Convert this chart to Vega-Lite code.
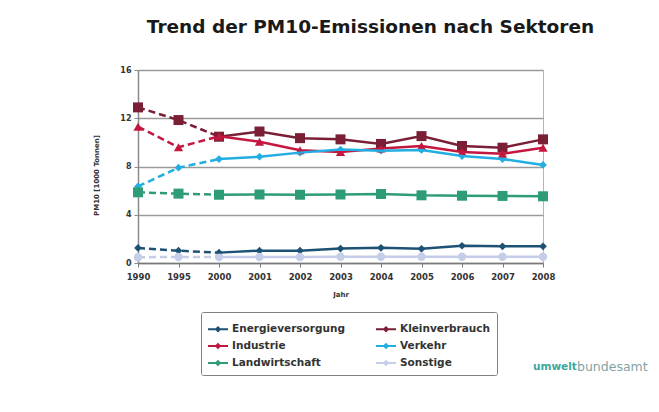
{
  "$schema": "https://vega.github.io/schema/vega-lite/v6.json",
  "width": 405,
  "height": 193,
  "autosize": {"type": "none"},
  "padding": {"left": 138, "top": 70, "right": 116, "bottom": 149},
  "background": "white",
  "title": {
    "text": "Trend der PM10-Emissionen nach Sektoren",
    "font": "DejaVu Sans",
    "fontSize": 18.5,
    "fontWeight": "bold",
    "color": "#1a1a1a",
    "anchor": "middle",
    "dx": 30,
    "offset": 30
  },
  "resolve": {"legend": {"color": "independent"}},
  "data": {
    "values": [
      {"year": 1990, "series": "Energieversorgung", "value": 1.25},
      {"year": 1995, "series": "Energieversorgung", "value": 1.02},
      {"year": 2000, "series": "Energieversorgung", "value": 0.86},
      {"year": 2001, "series": "Energieversorgung", "value": 1.02},
      {"year": 2002, "series": "Energieversorgung", "value": 1.02},
      {"year": 2003, "series": "Energieversorgung", "value": 1.2},
      {"year": 2004, "series": "Energieversorgung", "value": 1.26},
      {"year": 2005, "series": "Energieversorgung", "value": 1.18},
      {"year": 2006, "series": "Energieversorgung", "value": 1.43},
      {"year": 2007, "series": "Energieversorgung", "value": 1.38},
      {"year": 2008, "series": "Energieversorgung", "value": 1.38},
      {"year": 1990, "series": "Kleinverbrauch", "value": 12.9},
      {"year": 1995, "series": "Kleinverbrauch", "value": 11.85},
      {"year": 2000, "series": "Kleinverbrauch", "value": 10.47},
      {"year": 2001, "series": "Kleinverbrauch", "value": 10.9},
      {"year": 2002, "series": "Kleinverbrauch", "value": 10.35},
      {"year": 2003, "series": "Kleinverbrauch", "value": 10.25},
      {"year": 2004, "series": "Kleinverbrauch", "value": 9.87},
      {"year": 2005, "series": "Kleinverbrauch", "value": 10.52},
      {"year": 2006, "series": "Kleinverbrauch", "value": 9.7},
      {"year": 2007, "series": "Kleinverbrauch", "value": 9.56},
      {"year": 2008, "series": "Kleinverbrauch", "value": 10.25},
      {"year": 1990, "series": "Industrie", "value": 11.3},
      {"year": 1995, "series": "Industrie", "value": 9.6},
      {"year": 2000, "series": "Industrie", "value": 10.5},
      {"year": 2001, "series": "Industrie", "value": 10.05},
      {"year": 2002, "series": "Industrie", "value": 9.35},
      {"year": 2003, "series": "Industrie", "value": 9.2},
      {"year": 2004, "series": "Industrie", "value": 9.5},
      {"year": 2005, "series": "Industrie", "value": 9.7},
      {"year": 2006, "series": "Industrie", "value": 9.2},
      {"year": 2007, "series": "Industrie", "value": 9.05},
      {"year": 2008, "series": "Industrie", "value": 9.55},
      {"year": 1990, "series": "Verkehr", "value": 6.35},
      {"year": 1995, "series": "Verkehr", "value": 7.9},
      {"year": 2000, "series": "Verkehr", "value": 8.62},
      {"year": 2001, "series": "Verkehr", "value": 8.81},
      {"year": 2002, "series": "Verkehr", "value": 9.15},
      {"year": 2003, "series": "Verkehr", "value": 9.4},
      {"year": 2004, "series": "Verkehr", "value": 9.31},
      {"year": 2005, "series": "Verkehr", "value": 9.37},
      {"year": 2006, "series": "Verkehr", "value": 8.87},
      {"year": 2007, "series": "Verkehr", "value": 8.62},
      {"year": 2008, "series": "Verkehr", "value": 8.13},
      {"year": 1990, "series": "Landwirtschaft", "value": 5.86},
      {"year": 1995, "series": "Landwirtschaft", "value": 5.75},
      {"year": 2000, "series": "Landwirtschaft", "value": 5.66},
      {"year": 2001, "series": "Landwirtschaft", "value": 5.68},
      {"year": 2002, "series": "Landwirtschaft", "value": 5.66},
      {"year": 2003, "series": "Landwirtschaft", "value": 5.68},
      {"year": 2004, "series": "Landwirtschaft", "value": 5.72},
      {"year": 2005, "series": "Landwirtschaft", "value": 5.61},
      {"year": 2006, "series": "Landwirtschaft", "value": 5.58},
      {"year": 2007, "series": "Landwirtschaft", "value": 5.56},
      {"year": 2008, "series": "Landwirtschaft", "value": 5.53},
      {"year": 1990, "series": "Sonstige", "value": 0.48},
      {"year": 1995, "series": "Sonstige", "value": 0.5},
      {"year": 2000, "series": "Sonstige", "value": 0.5},
      {"year": 2001, "series": "Sonstige", "value": 0.5},
      {"year": 2002, "series": "Sonstige", "value": 0.5},
      {"year": 2003, "series": "Sonstige", "value": 0.52},
      {"year": 2004, "series": "Sonstige", "value": 0.52},
      {"year": 2005, "series": "Sonstige", "value": 0.52},
      {"year": 2006, "series": "Sonstige", "value": 0.52},
      {"year": 2007, "series": "Sonstige", "value": 0.52},
      {"year": 2008, "series": "Sonstige", "value": 0.52}
    ]
  },
  "layer": [
    {
      "transform": [{"filter": "datum.series == 'Energieversorgung' || datum.series == 'Verkehr'"}],
      "mark": {"type": "point", "filled": true, "opacity": 1, "shape": "diamond", "size": 60},
      "encoding": {
        "x": {"field": "year", "type": "ordinal", "scale": {"type": "point", "padding": 0}, "title": "Jahr"},
        "y": {
          "field": "value",
          "type": "quantitative",
          "scale": {"domain": [0, 16], "nice": false},
          "title": "PM10 [1000 Tonnen]",
          "axis": {"values": [0, 4, 8, 12, 16]}
        },
        "color": {
          "field": "series",
          "type": "nominal",
          "scale": {
            "domain": ["Energieversorgung", "Kleinverbrauch", "Industrie", "Verkehr", "Landwirtschaft", "Sonstige"],
            "range": ["#1d5275", "#7a1f35", "#c4173f", "#22aee3", "#2e9c77", "#c5cde8"]
          },
          "legend": {
            "orient": "none",
            "direction": "horizontal",
            "legendX": 63,
            "legendY": 242,
            "columns": 2,
            "columnPadding": 30,
            "rowPadding": -9,
            "title": null,
            "values": ["Energieversorgung", "Kleinverbrauch", "Industrie", "Verkehr", "Landwirtschaft", "Sonstige"],
            "labelFont": "DejaVu Sans",
            "labelFontWeight": "bold",
            "labelFontSize": 10.5,
            "labelColor": "#333333",
            "labelOffset": 3,
            "symbolSize": 400,
            "symbolType": "M-1,-0.09H1V0.09H-1Z M0,-0.33L0.33,0L0,0.33L-0.33,0Z",
            "strokeColor": "#808080",
            "padding": 6,
            "cornerRadius": 2
          }
        }
      }
    },
    {
      "transform": [{"filter": "datum.series == 'Kleinverbrauch' || datum.series == 'Landwirtschaft'"}],
      "mark": {"type": "point", "filled": true, "opacity": 1, "shape": "square", "size": 100},
      "encoding": {
        "x": {"field": "year", "type": "ordinal"},
        "y": {"field": "value", "type": "quantitative"},
        "color": {"field": "series", "type": "nominal", "legend": null}
      }
    },
    {
      "transform": [{"filter": "datum.series == 'Industrie'"}],
      "mark": {"type": "point", "filled": true, "opacity": 1, "shape": "triangle-up", "size": 85},
      "encoding": {
        "x": {"field": "year", "type": "ordinal"},
        "y": {"field": "value", "type": "quantitative"},
        "color": {"field": "series", "type": "nominal", "legend": null}
      }
    },
    {
      "transform": [{"filter": "datum.series == 'Sonstige'"}],
      "mark": {"type": "point", "filled": true, "opacity": 1, "shape": "circle", "size": 70},
      "encoding": {
        "x": {"field": "year", "type": "ordinal"},
        "y": {"field": "value", "type": "quantitative"},
        "color": {"field": "series", "type": "nominal", "legend": null}
      }
    },
    {
      "transform": [{"filter": "datum.year <= 2000"}],
      "mark": {"type": "line", "strokeWidth": 2.5, "strokeDash": [7, 4]},
      "encoding": {
        "x": {"field": "year", "type": "ordinal"},
        "y": {"field": "value", "type": "quantitative"},
        "color": {"field": "series", "type": "nominal", "legend": null}
      }
    },
    {
      "transform": [{"filter": "datum.year >= 2000"}],
      "mark": {"type": "line", "strokeWidth": 2.5},
      "encoding": {
        "x": {"field": "year", "type": "ordinal"},
        "y": {"field": "value", "type": "quantitative"},
        "color": {"field": "series", "type": "nominal", "legend": null}
      }
    },
    {
      "data": {"values": [{"t": "umwelt"}]},
      "mark": {"type": "text", "align": "left", "baseline": "middle", "font": "DejaVu Sans", "fontWeight": "bold", "fontSize": 10.5, "color": "#3aa89e", "dx": -10},
      "encoding": {
        "x": {"datum": 2008, "type": "ordinal"},
        "y": {"datum": -8.6, "type": "quantitative"},
        "text": {"field": "t"}
      }
    },
    {
      "data": {"values": [{"t": "bundesamt"}]},
      "mark": {"type": "text", "align": "left", "baseline": "middle", "font": "DejaVu Sans", "fontSize": 12.5, "color": "#7fa3a6", "dx": 34},
      "encoding": {
        "x": {"datum": 2008, "type": "ordinal"},
        "y": {"datum": -8.6, "type": "quantitative"},
        "text": {"field": "t"}
      }
    }
  ],
  "config": {
    "view": {"stroke": "#b5b5b5", "strokeWidth": 1},
    "axisY": {
      "grid": true,
      "gridColor": "#9a9a9a",
      "gridWidth": 1.5,
      "domainColor": "#8a8a8a",
      "domainWidth": 1.5,
      "tickColor": "#8a8a8a",
      "tickSize": 4,
      "labelPadding": 3,
      "labelFont": "DejaVu Sans",
      "labelFontWeight": "bold",
      "labelFontSize": 8,
      "labelColor": "#333333",
      "titleFont": "DejaVu Sans",
      "titleFontWeight": "bold",
      "titleFontSize": 7,
      "titleColor": "#333333",
      "titlePadding": 20,
      "titleY": 105
    },
    "axisX": {
      "grid": false,
      "labelAngle": 0,
      "domainColor": "#7a7a7a",
      "domainWidth": 1.5,
      "tickColor": "#7a7a7a",
      "tickSize": 4,
      "labelPadding": 5,
      "labelFont": "DejaVu Sans",
      "labelFontWeight": "bold",
      "labelFontSize": 8.5,
      "labelColor": "#333333",
      "titleFont": "DejaVu Sans",
      "titleFontWeight": "bold",
      "titleFontSize": 7,
      "titleColor": "#333333",
      "titlePadding": 10
    }
  }
}
